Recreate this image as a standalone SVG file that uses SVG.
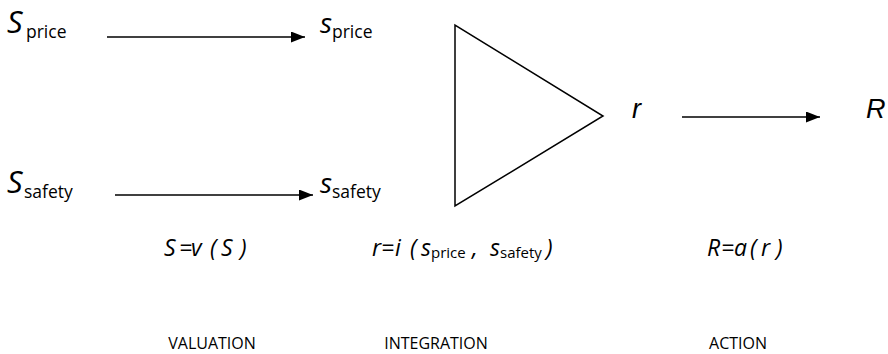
<svg xmlns="http://www.w3.org/2000/svg" width="888" height="354" viewBox="0 0 888 354">
<defs>
<style>
.big{font-family:"Open Sans","Noto Sans",sans-serif;font-style:italic;font-size:31px;fill:#000}
.sm{font-family:"Open Sans","Noto Sans",sans-serif;font-style:italic;font-size:28px;fill:#000}
.sub{font-family:"Open Sans","Noto Sans",sans-serif;font-size:17.5px;fill:#000}
.ar{font-family:"Liberation Sans",Arial,sans-serif;font-style:italic;font-size:27px;fill:#000}
.f{font-family:"Open Sans","Noto Sans",sans-serif;font-style:italic;font-size:23px;fill:#000}
.fs{font-family:"Open Sans","Noto Sans",sans-serif;font-style:normal;font-size:15px}
.lab{font-family:"Open Sans","Noto Sans",sans-serif;font-size:16px;fill:#000}
.ln{stroke:#000;stroke-width:1.5;fill:none}
</style>
<marker id="ah" viewBox="0 0 10 10" refX="10" refY="5" markerWidth="14" markerHeight="11" markerUnits="userSpaceOnUse" orient="auto" preserveAspectRatio="none">
<path d="M0,0 L10,5 L0,10 Z" fill="#000"/>
</marker>
</defs>
<g id="connectors">
<line class="ln" x1="107" y1="37" x2="305" y2="37" marker-end="url(#ah)"/>
<line class="ln" x1="115" y1="195" x2="313" y2="195" marker-end="url(#ah)"/>
<line class="ln" x1="682" y1="117" x2="820" y2="117" marker-end="url(#ah)"/>
</g>
<g id="S_price"><text class="big" x="7" y="33">S</text><text class="sub" x="26" y="38">price</text></g>
<g id="s_price"><text class="sm" x="320" y="33">s</text><text class="sub" x="332" y="38">price</text></g>
<g id="S_safety"><text class="big" x="7" y="193">S</text><text class="sub" x="24" y="198">safety</text></g>
<g id="s_safety"><text class="sm" x="320" y="193">s</text><text class="sub" x="332" y="198">safety</text></g>
<g id="integrator"><polygon points="455,25 455,206 603,116" fill="none" stroke="#000" stroke-width="1.5"/></g>
<g id="r"><text class="ar" x="632" y="118">r</text></g>
<g id="R"><text class="ar" x="866" y="118">R</text></g>
<g id="formula_v"><text class="f" y="256"><tspan x="164">S</tspan><tspan x="179">=</tspan><tspan x="191">v</tspan><tspan x="210">(</tspan><tspan x="221">S</tspan><tspan x="240">)</tspan></text></g>
<g id="formula_i"><text class="f" y="256"><tspan x="372">r</tspan><tspan x="381">=</tspan><tspan x="395">i</tspan><tspan x="410">(</tspan><tspan x="421">s</tspan><tspan class="fs" x="431" dy="2">price</tspan><tspan x="472" dy="-2">,</tspan><tspan x="490">s</tspan><tspan class="fs" x="500" dy="2">safety</tspan><tspan x="546" dy="-2">)</tspan></text></g>
<g id="formula_a"><text class="f" y="256"><tspan x="707">R</tspan><tspan x="721">=</tspan><tspan x="734">a</tspan><tspan x="750">(</tspan><tspan x="761">r</tspan><tspan x="776">)</tspan></text></g>
<g id="labels">
<text class="lab" x="212" y="349" text-anchor="middle">VALUATION</text>
<text class="lab" x="436" y="349" text-anchor="middle">INTEGRATION</text>
<text class="lab" x="738" y="349" text-anchor="middle">ACTION</text>
</g>
</svg>
